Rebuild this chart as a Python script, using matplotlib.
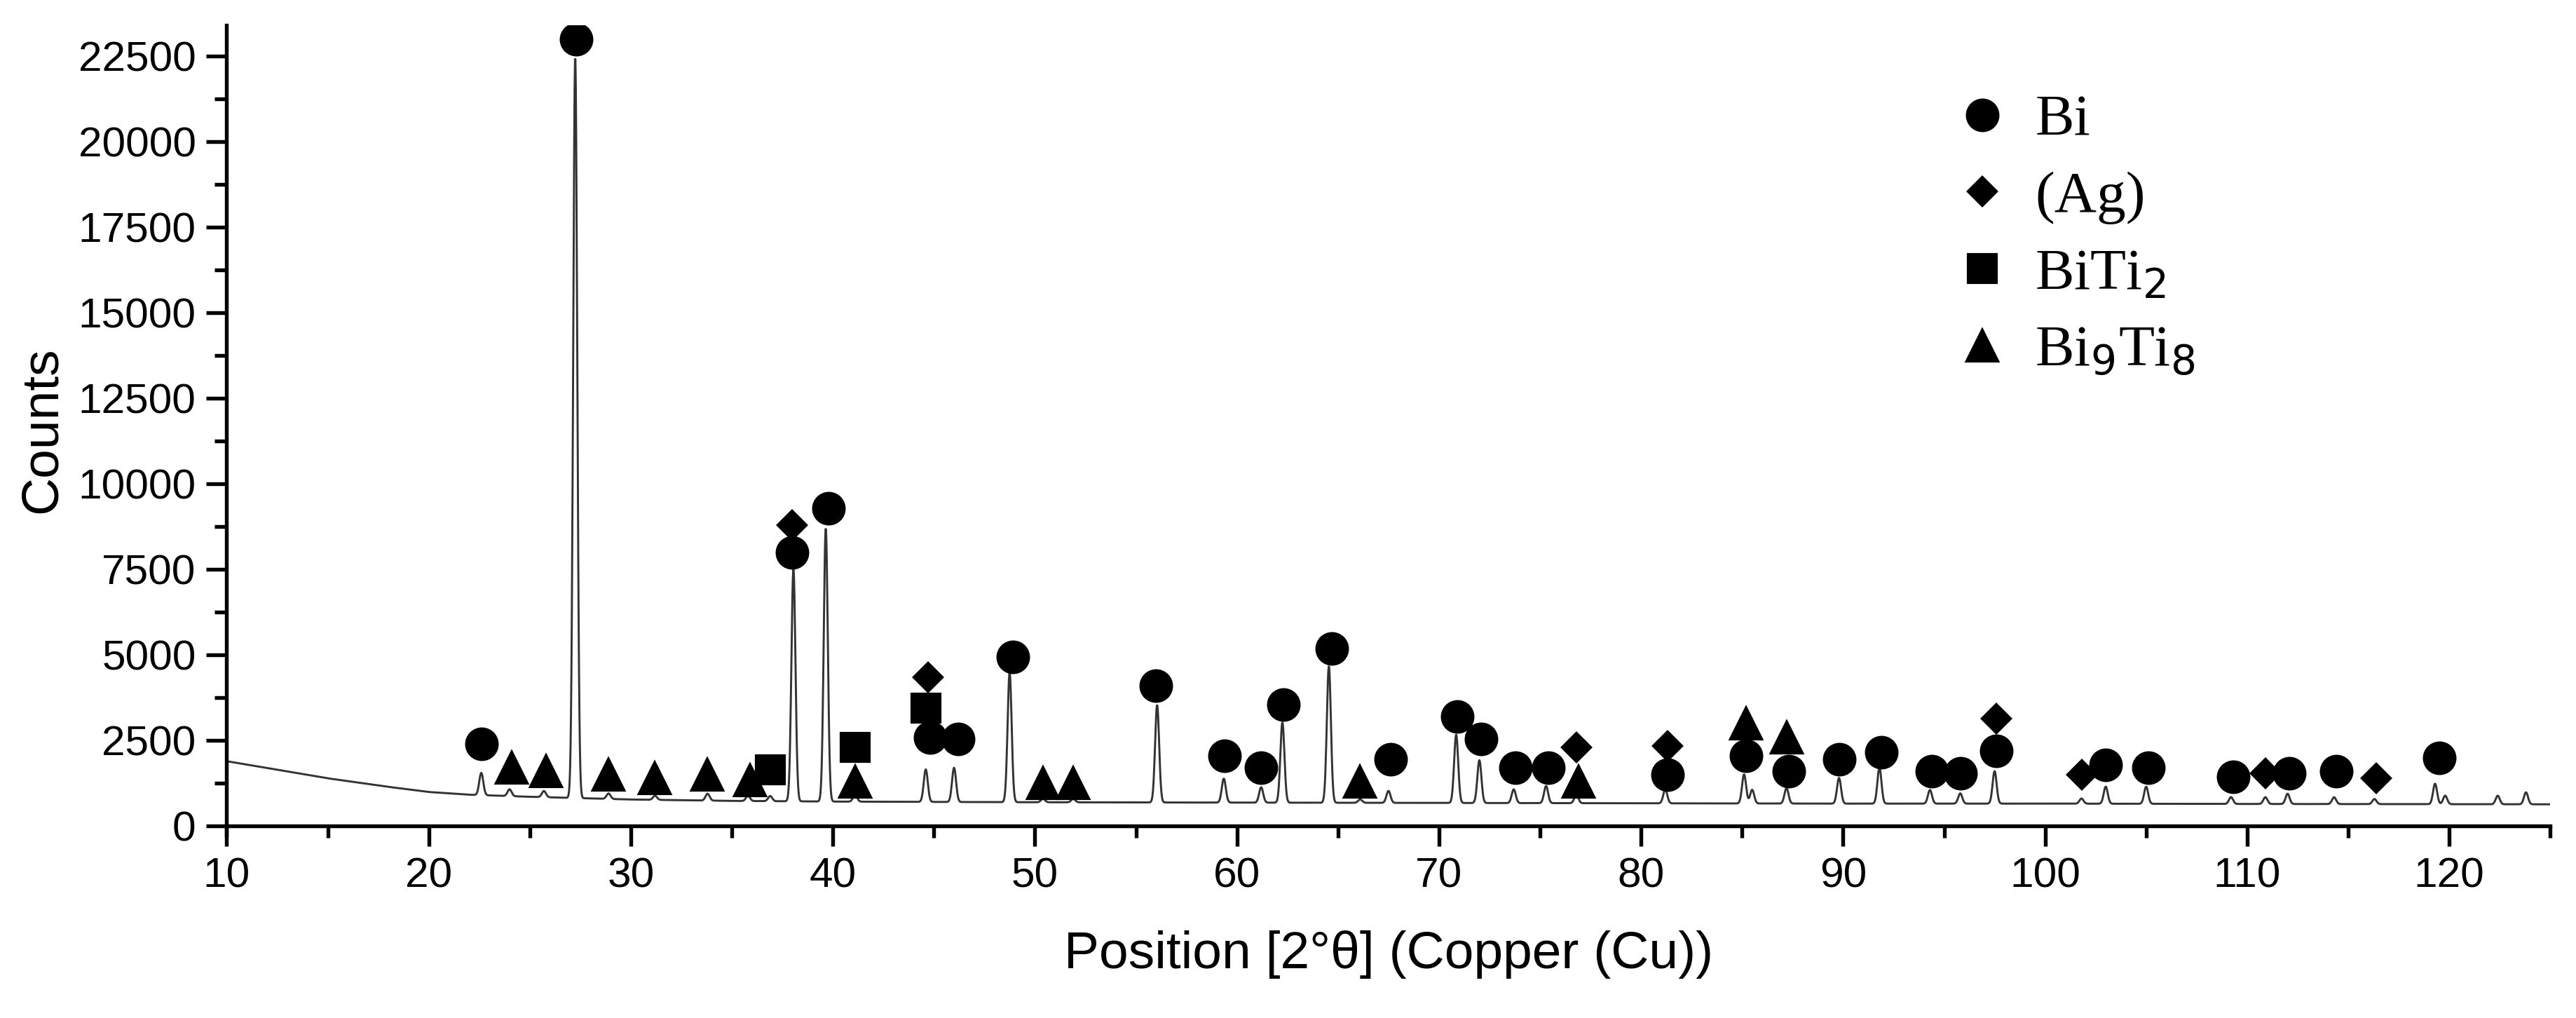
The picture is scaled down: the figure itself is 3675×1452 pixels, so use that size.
import numpy as np
import matplotlib
matplotlib.use("Agg")
import matplotlib.pyplot as plt
from matplotlib.ticker import MultipleLocator

# background readings (2theta, counts)
bg_x = [10, 12, 15, 18, 20, 22, 25, 30, 35, 40, 50, 60, 70, 80, 90, 100, 110, 125]
bg_y = [1900, 1700, 1400, 1150, 1000, 920, 860, 780, 740, 720, 700, 690, 680, 670, 660, 660, 650, 640]

# peaks (position, height above background)
pk_x = [22.6, 24.0, 25.7, 27.25, 28.9, 31.2, 33.8, 35.8, 36.9, 38.05, 39.65, 41.1, 44.6, 46.0,
        48.75, 50.4, 51.9, 56.05, 59.35, 61.2, 62.25, 64.55, 66.1, 67.5, 70.85, 72.0, 73.7, 75.3,
        76.8, 81.2, 85.1, 85.5, 87.2, 89.8, 91.8, 94.3, 95.8, 97.5, 101.8, 103.0, 105.0, 109.2,
        110.9, 112.0, 114.3, 116.3, 119.3, 119.8, 122.4, 123.8]
pk_h = [650, 200, 180, 21700, 160, 120, 200, 150, 150, 6800, 8000, 200, 950, 1000,
        3800, 100, 100, 2850, 700, 450, 2350, 4000, 100, 350, 2000, 1250, 400, 500,
        250, 400, 850, 400, 450, 750, 1050, 400, 300, 950, 150, 500, 500, 200,
        200, 300, 200, 150, 600, 250, 250, 350]

bi_x = [22.6, 27.3, 38.0, 39.8, 44.8, 46.2, 48.9, 56.0, 59.4, 61.2, 62.3, 64.7, 67.6, 70.9, 72.1,
        73.8, 75.4, 81.3, 85.2, 87.3, 89.8, 91.9, 94.4, 95.8, 97.6, 103.0, 105.1, 109.3, 112.1, 114.4, 119.5]
bi_y = [2400, 23000, 8000, 9300, 2600, 2550, 4950, 4100, 2050, 1700, 3550, 5200, 1950, 3200, 2550,
        1700, 1700, 1500, 2050, 1600, 1950, 2150, 1600, 1550, 2200, 1800, 1700, 1450, 1550, 1600, 2000]
ag_x = [38.0, 44.7, 76.8, 81.3, 97.6, 101.8, 110.9, 116.4]
ag_y = [8800, 4350, 2300, 2350, 3150, 1500, 1550, 1400]
biti2_x = [36.9, 44.6, 41.1]
biti2_y = [1650, 3450, 2300]
bi9ti8_x = [24.1, 25.8, 28.9, 31.2, 33.8, 35.9, 41.1, 50.4, 51.9, 66.1, 76.9, 85.2, 87.2]
bi9ti8_y = [1700, 1600, 1500, 1400, 1500, 1350, 1300, 1250, 1250, 1300, 1300, 3000, 2600]

x = np.arange(10, 125.001, 0.02)
y = np.interp(x, bg_x, bg_y)
for p, h in zip(pk_x, pk_h):
    y = y + h * np.exp(-0.5 * ((x - p) / 0.1) ** 2)

plt.rcParams['font.family'] = ['Liberation Sans', 'DejaVu Sans']
fig = plt.figure(figsize=(12.25, 4.84), dpi=300)
ax = fig.add_axes([0.088, 0.18, 0.902, 0.795])
ax.plot(x, y, color='#333333', lw=0.7)
ms = 10.5
ax.plot(bi_x, bi_y, 'o', color='black', ms=ms, ls='none', label='Bi')
ax.plot(ag_x, ag_y, 'D', color='black', ms=ms * 0.65, ls='none', label='(Ag)')
ax.plot(biti2_x, biti2_y, 's', color='black', ms=ms * 0.9, ls='none', label='BiTi$_2$')
ax.plot(bi9ti8_x, bi9ti8_y, '^', color='black', ms=ms, ls='none', label='Bi$_9$Ti$_8$')

ax.set_xlim(10, 125)
ax.set_ylim(-250, 23400)
ax.xaxis.set_major_locator(MultipleLocator(10))
ax.xaxis.set_minor_locator(MultipleLocator(5))
ax.yaxis.set_major_locator(MultipleLocator(2500))
ax.yaxis.set_minor_locator(MultipleLocator(1250))
ax.tick_params(which='major', direction='out', length=7, width=1.3, labelsize=14.5)
ax.tick_params(which='minor', direction='out', length=4, width=1.3)
for s in ['top', 'right']:
    ax.spines[s].set_visible(False)
for s in ['left', 'bottom']:
    ax.spines[s].set_linewidth(1.3)
ax.spines['bottom'].set_position(('data', 0))
ax.set_xlabel('Position [2°θ] (Copper (Cu))', fontsize=18, labelpad=12)
ax.set_ylabel('Counts', fontsize=18)
leg = ax.legend(loc='upper right', bbox_to_anchor=(0.87, 0.98), frameon=False,
                prop={'family': 'Liberation Serif', 'size': 20}, handletextpad=0.4,
                labelspacing=0.4, handlelength=1.0)
fig.savefig('out.png', dpi=300)
